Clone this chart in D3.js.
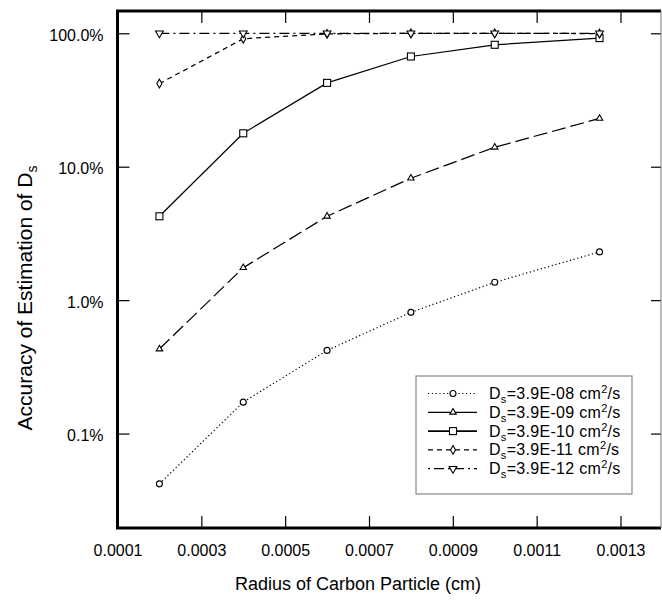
<!DOCTYPE html>
<html>
<head>
<meta charset="utf-8">
<script src="https://cdn.jsdelivr.net/npm/d3@7"></script>
<style>
  body { margin: 0; background: #fff; }
  svg { font-family: "Liberation Sans", Arial, sans-serif; }
</style>
</head>
<body>
<div id="chart"></div>
<script>
// radius of carbon particle (cm)
const radius = [0.0002, 0.0004, 0.0006, 0.0008, 0.0010, 0.00125];

// accuracy of estimation of Ds (%), one array per diffusivity
const ds08 = [0.042, 0.172, 0.42, 0.81, 1.36, 2.3];
const ds09 = [0.43, 1.75, 4.25, 8.2, 14.0, 23.0];
const ds10 = [4.25, 17.8, 42.5, 67, 82, 92];
const ds11 = [42, 91, 99, 100, 100, 99.5];
const ds12 = [100, 100, 100, 100, 100, 100];

const seriesNames = ["3.9E-08", "3.9E-09", "3.9E-10", "3.9E-11", "3.9E-12"];

const xTicks = [0.0001, 0.0003, 0.0005, 0.0007, 0.0009, 0.0011, 0.0013];
const yTicks = [0.1, 1, 10, 100];

const W = 662, H = 601;
const margin = {left: 117.5, top: 11, right: 1, bottom: 73};
const plotRight = W - margin.right;
const plotBottom = H - margin.bottom;

const svg = d3.select("#chart").append("svg")
  .attr("width", W)
  .attr("height", H);

const x = d3.scaleLinear()
  .domain([0.0001, 0.0014])
  .range([margin.left, 662.4]);

const y = d3.scaleLog()
  .domain([0.0196, 146.9])
  .range([plotBottom, margin.top]);

// line styles per series (legend dash keeps the gap under the marker)
const styles = [
  {dash: "1.2,2.6", legendDash: "1.2,2.6", marker: "circle"},
  {dash: "14,5", legendDash: "22,5", marker: "triangle"},
  {dash: null, legendDash: null, marker: "square"},
  {dash: "5,4", legendDash: "5,4", marker: "diamond"},
  {dash: "10,4,2,4", legendDash: "2,4,10,4", marker: "triangleDown"}
];

const seriesData = [ds08, ds09, ds10, ds11, ds12];

function drawMarker(g, type, cx, cy) {
  let m;
  if (type === "circle") {
    m = g.append("circle").attr("cx", cx).attr("cy", cy).attr("r", 3);
  } else if (type === "square") {
    m = g.append("rect").attr("x", cx - 3.5).attr("y", cy - 3.5)
      .attr("width", 7).attr("height", 7);
  } else if (type === "diamond") {
    m = g.append("path").attr("d", d3.symbol(d3.symbolDiamond, 22)())
      .attr("transform", `translate(${cx},${cy})`);
  } else if (type === "triangle") {
    m = g.append("path").attr("d", d3.symbol(d3.symbolTriangle, 18)())
      .attr("transform", `translate(${cx},${cy})`);
  } else {
    m = g.append("path").attr("d", d3.symbol(d3.symbolTriangle, 26)())
      .attr("transform", `translate(${cx},${cy}) rotate(180)`);
  }
  m.attr("fill", "white").attr("stroke", "black").attr("stroke-width", 1.1);
}

// series lines + markers
const line = d3.line()
  .x((d, i) => x(radius[i]))
  .y(d => y(d));

const plotG = svg.append("g");
seriesData.forEach((vals, s) => {
  plotG.append("path")
    .attr("d", line(vals))
    .attr("fill", "none")
    .attr("stroke", "black")
    .attr("stroke-width", 1.25)
    .attr("stroke-dasharray", styles[s].dash);
});
// markers after all lines so they stay on top
seriesData.forEach((vals, s) => {
  vals.forEach((v, i) => drawMarker(plotG, styles[s].marker, x(radius[i]), y(v)));
});

// axes with inward ticks
const xAxis = svg.append("g")
  .attr("transform", `translate(0,${plotBottom})`)
  .call(d3.axisBottom(x).tickValues(xTicks).tickSize(-12).tickPadding(17)
    .tickFormat(d3.format(".4f")));
const xTop = svg.append("g")
  .attr("transform", `translate(0,${margin.top})`)
  .call(d3.axisTop(x).tickValues(xTicks).tickSize(-12).tickFormat(""));

const yAxis = svg.append("g")
  .attr("transform", `translate(${margin.left},0)`)
  .call(d3.axisLeft(y).tickValues(yTicks).tickSize(-12).tickPadding(14)
    .tickFormat(d => d3.format(".1f")(d) + "%"));
const yRight = svg.append("g")
  .attr("transform", `translate(${plotRight},0)`)
  .call(d3.axisRight(y).tickValues(yTicks).tickSize(-10).tickFormat(""));

[xAxis, xTop, yAxis, yRight].forEach(a => {
  a.select(".domain").remove();
  a.selectAll(".tick line").attr("stroke", "black").attr("stroke-width", 1.2);
});
xAxis.selectAll("text").style("font-size", "16px").attr("fill", "black");
yAxis.selectAll("text").style("font-size", "16px").attr("fill", "black").attr("dy", "0.45em");

// frame: thick left/top/bottom, thin right
svg.append("path")
  .attr("d", `M${plotRight},${margin.top}H${margin.left}V${plotBottom}H${plotRight}`)
  .attr("fill", "none")
  .attr("stroke", "black")
  .attr("stroke-width", 3);
svg.append("line")
  .attr("x1", plotRight).attr("x2", plotRight)
  .attr("y1", margin.top).attr("y2", plotBottom)
  .attr("stroke", "#777").attr("stroke-width", 1);

// axis titles
svg.append("text")
  .attr("x", 358)
  .attr("y", 590)
  .attr("text-anchor", "middle")
  .style("font-size", "18px")
  .text("Radius of Carbon Particle (cm)");

const yTitle = svg.append("text")
  .attr("transform", "rotate(-90)")
  .attr("x", -298)
  .attr("y", 32)
  .attr("text-anchor", "middle")
  .style("font-size", "21px");
yTitle.append("tspan").text("Accuracy of Estimation of D");
yTitle.append("tspan").attr("dy", 5).style("font-size", "14px").text("s");

// legend
const legend = svg.append("g");
legend.append("rect")
  .attr("x", 416).attr("y", 376)
  .attr("width", 216).attr("height", 118)
  .attr("fill", "white")
  .attr("stroke", "#888")
  .attr("stroke-width", 1.2);

seriesNames.forEach((name, s) => {
  const ry = 393.5 + s * 18.8;
  legend.append("line")
    .attr("x1", 428).attr("x2", 477)
    .attr("y1", ry).attr("y2", ry)
    .attr("stroke", "black")
    .attr("stroke-width", s === 2 ? 1.6 : 1.2)
    .attr("stroke-dasharray", styles[s].legendDash);
  drawMarker(legend, styles[s].marker, 453, ry);
  const t = legend.append("text")
    .attr("x", 489)
    .attr("y", ry + 5.5)
    .style("font-size", "16px")
    .style("letter-spacing", "0.3px");
  t.append("tspan").text("D");
  t.append("tspan").attr("dy", 4).style("font-size", "11px").text("s");
  t.append("tspan").attr("dy", -4).text(`=${name} cm`);
  t.append("tspan").attr("dy", -6).style("font-size", "11px").text("2");
  t.append("tspan").attr("dy", 6).text("/s");
});
</script>
</body>
</html>
